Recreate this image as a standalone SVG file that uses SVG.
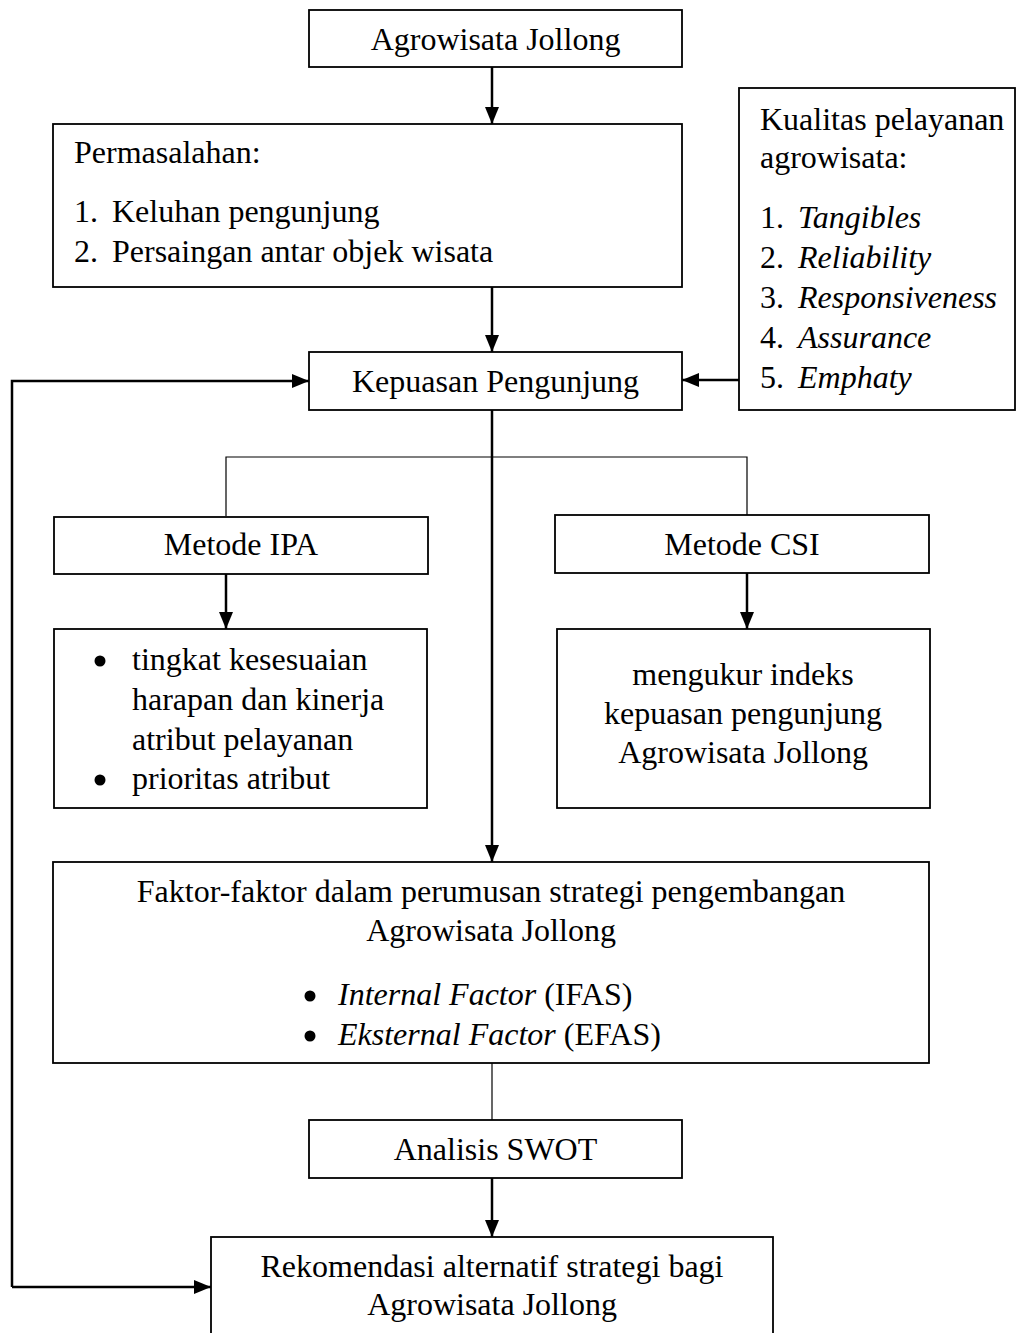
<svg xmlns="http://www.w3.org/2000/svg" width="1016" height="1333" viewBox="0 0 1016 1333">
<style>
.box{fill:#fff;stroke:#000;stroke-width:1.8}
.t{font-family:"Liberation Serif","Times New Roman",serif;font-size:32px;fill:#000}
.c{text-anchor:middle}
.i{font-style:italic}
.dot{fill:#000}
.ar{fill:none;stroke:#000;stroke-width:2.5}
.thin{fill:none;stroke:#000;stroke-width:1.2}
</style>
<defs>
<marker id="ah" markerUnits="userSpaceOnUse" markerWidth="17" markerHeight="14" refX="17" refY="7" orient="auto">
<path d="M0,0 L17,7 L0,14 z" fill="#000"/>
</marker>
</defs>
<rect width="1016" height="1333" fill="#fff"/>
<g id="connectors">
<line class="ar" x1="492" y1="67" x2="492" y2="124" marker-end="url(#ah)"/>
<line class="ar" x1="492" y1="287" x2="492" y2="352" marker-end="url(#ah)"/>
<line class="ar" x1="739" y1="380" x2="682" y2="380" marker-end="url(#ah)"/>
<polyline class="ar" points="12,1287 12,381 309,381" marker-end="url(#ah)"/>
<line class="ar" x1="12" y1="1287" x2="211" y2="1287" marker-end="url(#ah)"/>
<line class="ar" x1="492" y1="410" x2="492" y2="862" marker-end="url(#ah)"/>
<polyline class="thin" points="226,516 226,457 747,457 747,515"/>
<line class="ar" x1="226" y1="574" x2="226" y2="629" marker-end="url(#ah)"/>
<line class="ar" x1="747" y1="573" x2="747" y2="629" marker-end="url(#ah)"/>
<line class="thin" x1="492" y1="1063" x2="492" y2="1120"/>
<line class="ar" x1="492" y1="1178" x2="492" y2="1237" marker-end="url(#ah)"/>
</g>
<g id="agrowisata">
<rect class="box" x="309" y="10" width="373" height="57"/>
<text class="t c" x="495.5" y="50">Agrowisata Jollong</text>
</g>
<g id="permasalahan">
<rect class="box" x="53" y="124" width="629" height="163"/>
<text class="t" x="74" y="163">Permasalahan:</text>
<text class="t" x="74" y="222">1.</text>
<text class="t" x="112" y="222">Keluhan pengunjung</text>
<text class="t" x="74" y="262">2.</text>
<text class="t" x="112" y="262">Persaingan antar objek wisata</text>
</g>
<g id="kualitas">
<rect class="box" x="739" y="88" width="276" height="322"/>
<text class="t" x="760" y="130">Kualitas pelayanan</text>
<text class="t" x="760" y="168">agrowisata:</text>
<text class="t" x="760" y="228">1.</text>
<text class="t i" x="798" y="228">Tangibles</text>
<text class="t" x="760" y="268">2.</text>
<text class="t i" x="798" y="268">Reliability</text>
<text class="t" x="760" y="308">3.</text>
<text class="t i" x="798" y="308">Responsiveness</text>
<text class="t" x="760" y="348">4.</text>
<text class="t i" x="798" y="348">Assurance</text>
<text class="t" x="760" y="388">5.</text>
<text class="t i" x="798" y="388">Emphaty</text>
</g>
<g id="kepuasan">
<rect class="box" x="309" y="352" width="373" height="58"/>
<text class="t c" x="495.5" y="392">Kepuasan Pengunjung</text>
</g>
<g id="ipa">
<rect class="box" x="54" y="517" width="374" height="57"/>
<text class="t c" x="241" y="555">Metode IPA</text>
</g>
<g id="csi">
<rect class="box" x="555" y="515" width="374" height="58"/>
<text class="t c" x="742" y="555">Metode CSI</text>
</g>
<g id="ipa-result">
<rect class="box" x="54" y="629" width="373" height="179"/>
<circle class="dot" cx="100" cy="661" r="5.5"/>
<text class="t" x="132" y="670">tingkat kesesuaian</text>
<text class="t" x="132" y="710">harapan dan kinerja</text>
<text class="t" x="132" y="750">atribut pelayanan</text>
<circle class="dot" cx="100" cy="780" r="5.5"/>
<text class="t" x="132" y="789">prioritas atribut</text>
</g>
<g id="csi-result">
<rect class="box" x="557" y="629" width="373" height="179"/>
<text class="t c" x="743" y="685">mengukur indeks</text>
<text class="t c" x="743" y="724">kepuasan pengunjung</text>
<text class="t c" x="743" y="763">Agrowisata Jollong</text>
</g>
<g id="faktor">
<rect class="box" x="53" y="862" width="876" height="201"/>
<text class="t c" x="491" y="902">Faktor-faktor dalam perumusan strategi pengembangan</text>
<text class="t c" x="491" y="941">Agrowisata Jollong</text>
<circle class="dot" cx="310" cy="996" r="5.5"/>
<text class="t" x="338" y="1005"><tspan class="i">Internal Factor</tspan> (IFAS)</text>
<circle class="dot" cx="310" cy="1036" r="5.5"/>
<text class="t" x="338" y="1045"><tspan class="i">Eksternal Factor</tspan> (EFAS)</text>
</g>
<g id="swot">
<rect class="box" x="309" y="1120" width="373" height="58"/>
<text class="t c" x="495.5" y="1160">Analisis SWOT</text>
</g>
<g id="rekomendasi">
<rect class="box" x="211" y="1237" width="562" height="110"/>
<text class="t c" x="492" y="1277">Rekomendasi alternatif strategi bagi</text>
<text class="t c" x="492" y="1315">Agrowisata Jollong</text>
</g>
</svg>
